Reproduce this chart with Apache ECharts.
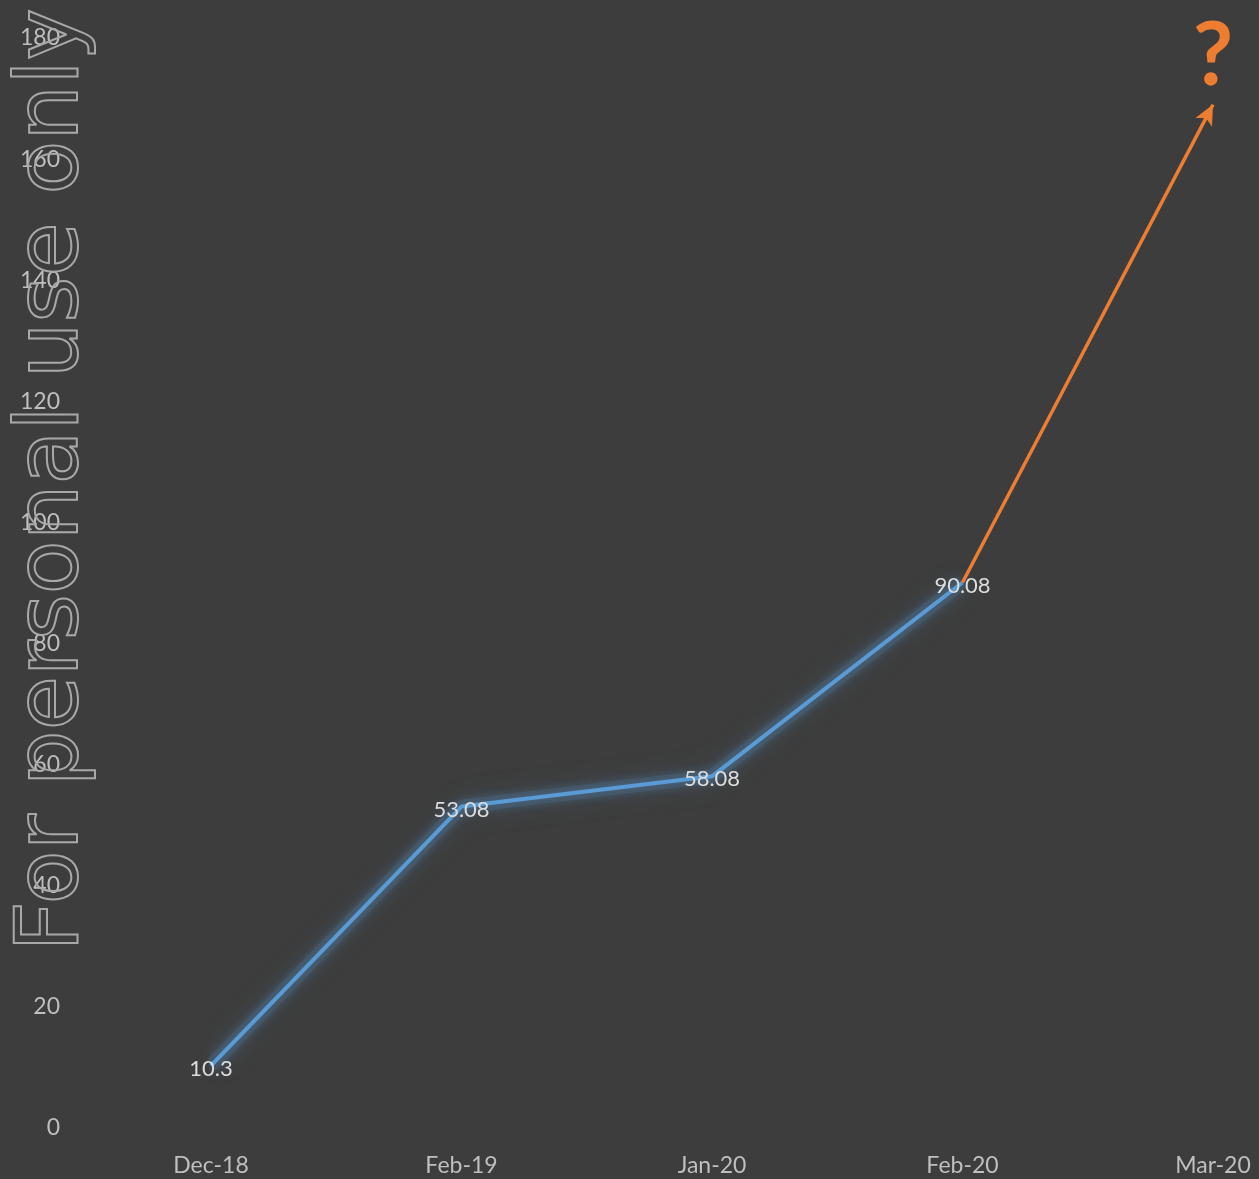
<!DOCTYPE html>
<html><head><meta charset="utf-8">
<style>html,body{margin:0;padding:0;background:#3d3d3d}#c{width:1259px;height:1179px}</style>
<script src="https://cdn.jsdelivr.net/npm/echarts@6/dist/echarts.min.js"></script>
</head><body><div id="c"></div>
<script>
const categories = ['Dec-18', 'Feb-19', 'Jan-20', 'Feb-20', 'Mar-20'];
const values = [10.3, 53.08, 58.08, 90.08, null];
const projectionStart = ['Feb-20', 90.08];
const projectionEnd = ['Mar-20', 169];
const questionPoint = ['Mar-20', 177];
const yTicks = { min: 0, max: 180, interval: 20 };

const chart = echarts.init(document.getElementById('c'), null, {renderer: 'canvas'});
chart.setOption({
  backgroundColor: '#3d3d3d',
  animation: false,
  grid: { left: 211, right: 46, top: 38, bottom: 51 },
  xAxis: {
    type: 'category', data: categories, boundaryGap: false,
    axisLine: { show: false }, axisTick: { show: false }, splitLine: { show: false },
    axisLabel: { color: '#bfbfbf', fontFamily: 'Lato', fontSize: 23, margin: 26, interval: 0 }
  },
  yAxis: {
    type: 'value', min: yTicks.min, max: yTicks.max, interval: yTicks.interval,
    axisLine: { show: false }, axisTick: { show: false }, splitLine: { show: false },
    axisLabel: { color: '#bfbfbf', fontFamily: 'Lato', fontSize: 23, margin: 151, align: 'right' }
  },
  series: [{
    type: 'line', data: values, silent: true, z: 1,
    symbol: 'none',
    lineStyle: { color: 'rgba(91,155,213,0.12)', width: 14, shadowBlur: 30, shadowColor: 'rgba(91,155,213,0.7)' },
    tooltip: { show: false }
  }, {
    type: 'line', data: values, z: 2,
    symbol: 'circle', symbolSize: 2, showSymbol: true,
    itemStyle: { color: 'rgba(0,0,0,0)', borderWidth: 0 },
    lineStyle: { color: '#5b9bd5', width: 4, shadowBlur: 14, shadowColor: 'rgba(91,155,213,1)' },
    label: { show: true, position: 'inside', color: '#dcdcdc', fontFamily: 'Lato', fontSize: 22, offset: [0, 3] },
    markLine: {
      silent: true, symbol: ['none', 'arrow'], symbolSize: [14, 20],
      label: { show: false },
      lineStyle: { color: '#ed7d31', width: 3.5, type: 'solid' },
      data: [[{ coord: projectionStart }, { coord: projectionEnd }]]
    },
    markPoint: {
      silent: true, symbol: 'circle', symbolSize: 2,
      itemStyle: { color: 'rgba(0,0,0,0)' },
      label: { show: true, position: 'inside', formatter: '?', color: '#ed7d31', fontFamily: 'Lato', fontWeight: 'bold', fontSize: 88 },
      data: [{ coord: questionPoint }]
    }
  }],
  graphic: [{
    type: 'text', x: 54, y: 480, rotation: Math.PI / 2, z: 100,
    style: {
      text: 'For personal use only', fontFamily: 'DejaVu Sans', fontSize: 88,
      fill: 'none', stroke: '#a8a8a8', lineWidth: 2,
      textAlign: 'center', textVerticalAlign: 'middle'
    }
  }]
});
</script></body></html>
